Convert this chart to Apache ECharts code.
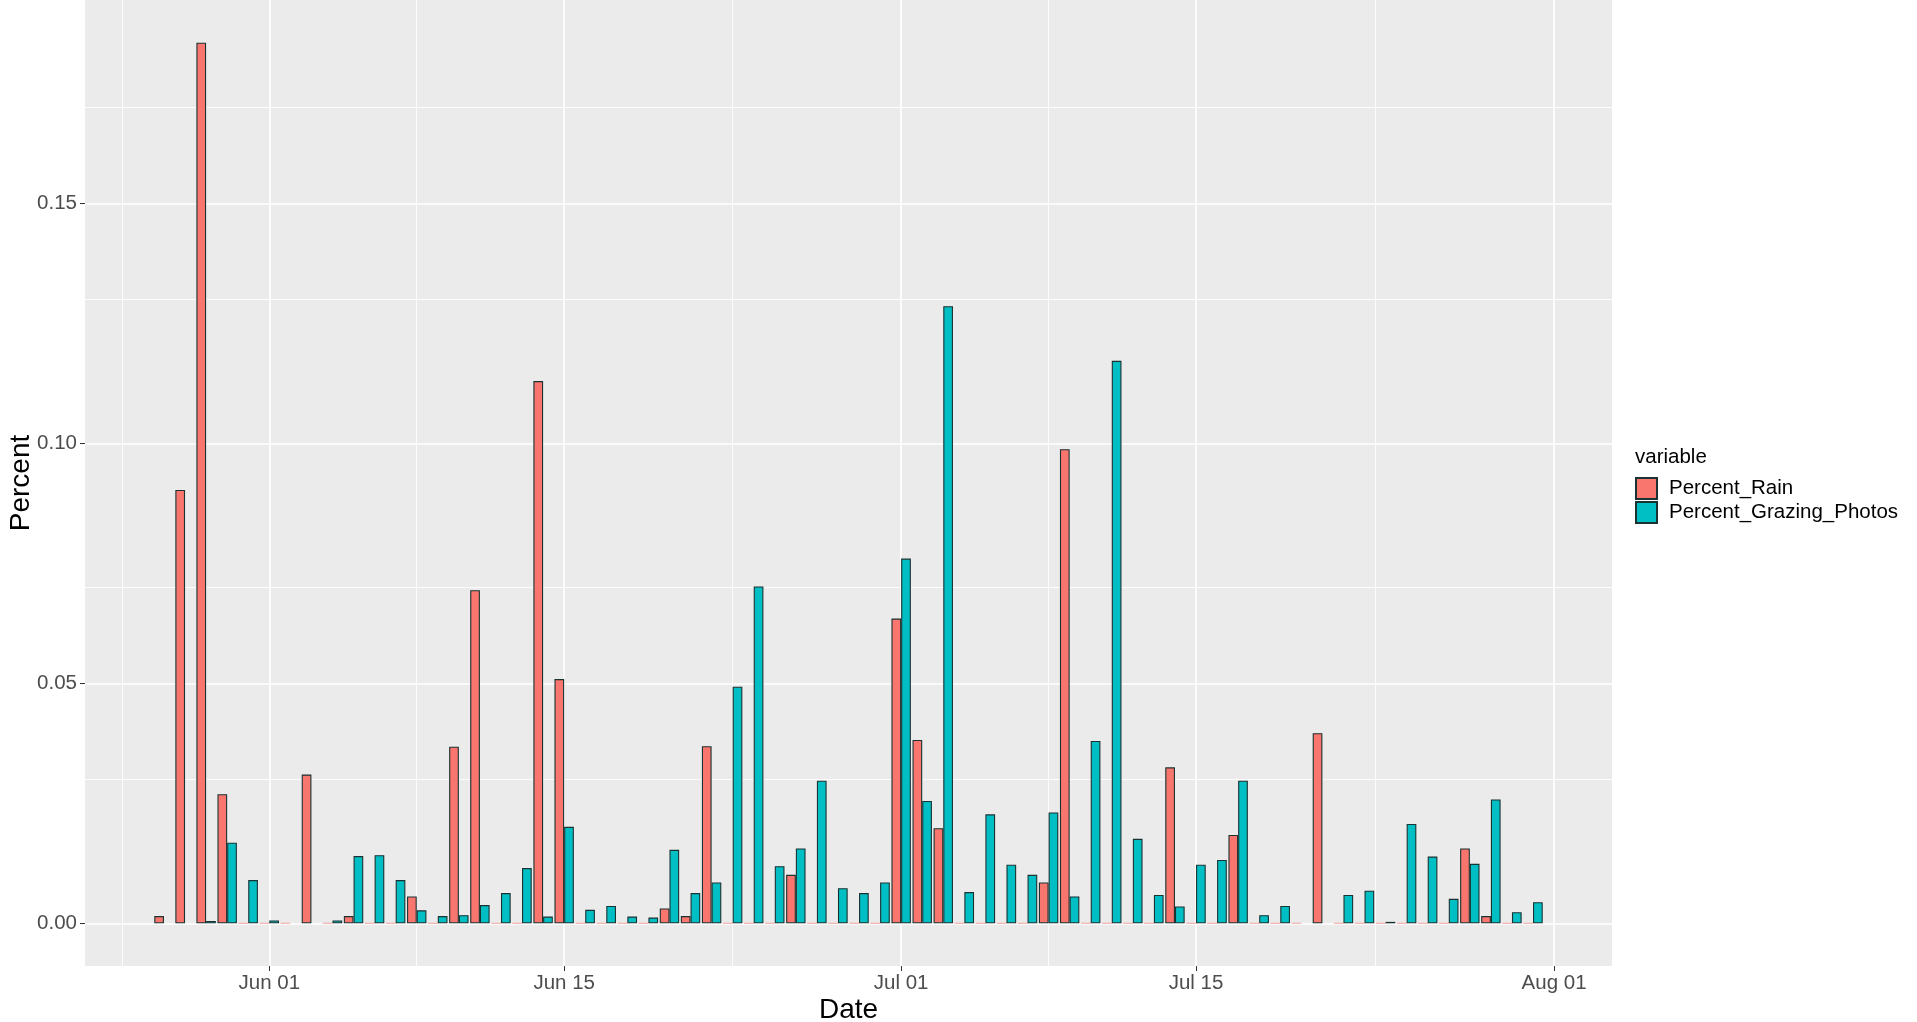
<!DOCTYPE html>
<html><head><meta charset="utf-8">
<script src="https://cdn.jsdelivr.net/npm/echarts@6/dist/echarts.min.js"></script>
<style>html,body{margin:0;padding:0;background:#fff}#c{width:1917px;height:1022px}</style>
</head><body><div id="c"></div>
<script>
const dates = [
  '2018-05-27','2018-05-28','2018-05-29','2018-05-30','2018-05-31',
  '2018-06-01','2018-06-02','2018-06-03','2018-06-04','2018-06-05','2018-06-06','2018-06-07','2018-06-08','2018-06-09','2018-06-10',
  '2018-06-11','2018-06-12','2018-06-13','2018-06-14','2018-06-15','2018-06-16','2018-06-17','2018-06-18','2018-06-19','2018-06-20',
  '2018-06-21','2018-06-22','2018-06-23','2018-06-24','2018-06-25','2018-06-26','2018-06-27','2018-06-28','2018-06-29','2018-06-30',
  '2018-07-01','2018-07-02','2018-07-03','2018-07-04','2018-07-05','2018-07-06','2018-07-07','2018-07-08','2018-07-09','2018-07-10',
  '2018-07-11','2018-07-12','2018-07-13','2018-07-14','2018-07-15','2018-07-16','2018-07-17','2018-07-18','2018-07-19','2018-07-20',
  '2018-07-21','2018-07-22','2018-07-23','2018-07-24','2018-07-25','2018-07-26','2018-07-27','2018-07-28','2018-07-29','2018-07-30','2018-07-31'
];
const percentRain = [
  0.0015, 0.0903, 0.1835, 0.0269, 0,
  0, 0, 0.031, 0, 0.0015, 0, 0, 0.0056, 0, 0.0368,
  0.0694, 0, 0, 0.113, 0.0509, 0, 0, 0, 0, 0.0031,
  0.0015, 0.0369, 0, 0, 0, 0.0101, 0, 0, 0, 0,
  0.0635, 0.0382, 0.0198, 0, 0, 0, 0, 0.0085, 0.0988, 0,
  0, 0, 0, 0.0325, 0, 0, 0.0184, 0, 0, 0,
  0.0396, 0, 0, 0, 0, 0, 0, 0.0156, 0.0015, 0, 0
];
const percentGrazingPhotos = [
  null, null, 0.0005, 0.0168, 0.009,
  0.0006, null, null, 0.0006, 0.014, 0.0142, 0.009, 0.0027, 0.0015, 0.0017,
  0.0038, 0.0063, 0.0115, 0.0014, 0.0201, 0.0028, 0.0036, 0.0014, 0.0012, 0.0153,
  0.0063, 0.0085, 0.0493, 0.0702, 0.0119, 0.0156, 0.0297, 0.0073, 0.0063, 0.0085,
  0.076, 0.0255, 0.1286, 0.0065, 0.0227, 0.0122, 0.0101, 0.0231, 0.0056, 0.038,
  0.1172, 0.0176, 0.0059, 0.0035, 0.0122, 0.0132, 0.0297, 0.0017, 0.0036, null,
  null, 0.0059, 0.0068, 0.0003, 0.0207, 0.0139, 0.0051, 0.0124, 0.0258, 0.0023, 0.0044
];
const seriesNames = ['Percent_Rain', 'Percent_Grazing_Photos'];
const legendTitle = 'variable';
const xTitle = 'Date';
const yTitle = 'Percent';
const xTickDates = ['2018-06-01', '2018-06-15', '2018-07-01', '2018-07-15', '2018-08-01'];
const xTickLabels = ['Jun 01', 'Jun 15', 'Jul 01', 'Jul 15', 'Aug 01'];
const xMinorDates = ['2018-05-25', '2018-06-08', '2018-06-23', '2018-07-08', '2018-07-23 12:00'];
const yTicks = [0, 0.05, 0.10, 0.15];
const yMinorTicks = [0.025, 0.075, 0.125, 0.175];
const xRange = ['2018-05-23 06:00', '2018-08-03 18:00'];
const yRange = [-0.0089, 0.1924];

// dates -> day number (days since 2018-06-01, UTC) for a linear value axis
function toDay(s) {
  const [d, t] = s.split(' ');
  const [y, m, dd] = d.split('-').map(Number);
  let hh = 0, mm = 0;
  if (t) { [hh, mm] = t.split(':').map(Number); }
  return (Date.UTC(y, m - 1, dd, hh, mm) - Date.UTC(2018, 5, 1)) / 86400000;
}
const tickDays = xTickDates.map(toDay);

const RED = '#F8766D', TEAL = '#00BFC4', OUTLINE = '#1a3232';

function barData(vals) {
  return dates.map((d, i) => {
    const v = vals[i];
    if (v === 0) return { value: [toDay(d), 0], itemStyle: { borderColor: '#F1A39D' } };
    return [toDay(d), v];
  });
}

const gridLines = [];
tickDays.forEach(t => gridLines.push({ xAxis: t, lineStyle: { width: 1.7 } }));
xMinorDates.forEach(s => gridLines.push({ xAxis: toDay(s), lineStyle: { width: 0.85 } }));
yTicks.forEach(v => gridLines.push({ yAxis: v, lineStyle: { width: 1.7 } }));
yMinorTicks.forEach(v => gridLines.push({ yAxis: v, lineStyle: { width: 0.85 } }));

const font = 'Liberation Sans, Arial, sans-serif';
const chart = echarts.init(document.getElementById('c'), null, { renderer: 'canvas' });
chart.setOption({
  animation: false,
  backgroundColor: '#FFFFFF',
  title: {
    text: legendTitle, left: 1635, top: 445, padding: 0,
    textStyle: { fontFamily: font, fontSize: 20.5, fontWeight: 'normal', color: '#000', lineHeight: 24 }
  },
  legend: {
    orient: 'vertical', left: 1635, top: 477, padding: 0,
    itemWidth: 21, itemHeight: 21, itemGap: 1, icon: 'rect',
    data: seriesNames,
    textStyle: { fontFamily: font, fontSize: 20.5, color: '#000', padding: [0, 0, 0, 7] }
  },
  grid: {
    left: 85, right: 305, top: 0, bottom: 56, show: true,
    backgroundColor: '#EBEBEB', borderWidth: 0, containLabel: false,
    outerBoundsMode: 'none'
  },
  xAxis: {
    type: 'value',
    min: toDay(xRange[0]), max: toDay(xRange[1]),
    name: xTitle, nameLocation: 'middle', nameGap: 30, nameMoveOverlap: false,
    nameTextStyle: { fontFamily: font, fontSize: 28, color: '#000' },
    axisLine: { show: false, onZero: false },
    axisTick: { show: true, length: 5, lineStyle: { color: '#333', width: 1 }, customValues: tickDays },
    axisLabel: {
      customValues: tickDays, margin: 7, showMinLabel: true, showMaxLabel: true,
      fontFamily: font, fontSize: 20.5, color: '#4D4D4D',
      formatter: function (v) { const i = tickDays.indexOf(v); return i >= 0 ? xTickLabels[i] : ''; }
    },
    splitLine: { show: false }
  },
  yAxis: {
    type: 'value', min: yRange[0], max: yRange[1],
    name: yTitle, nameLocation: 'middle', nameGap: 50, nameMoveOverlap: false,
    nameTextStyle: { fontFamily: font, fontSize: 28, color: '#000' },
    axisLine: { show: false, onZero: false },
    axisTick: { show: true, length: 5, lineStyle: { color: '#333', width: 1 }, customValues: yTicks },
    axisLabel: {
      customValues: yTicks, margin: 8,
      fontFamily: font, fontSize: 20.5, color: '#4D4D4D',
      formatter: function (v) { return Number(v).toFixed(2); }
    },
    splitLine: { show: false }
  },
  series: [
    {
      name: 'grid', type: 'line', data: [], silent: true, showSymbol: false,
      markLine: {
        z: 1, silent: true, symbol: 'none', animation: false,
        label: { show: false },
        lineStyle: { color: '#FFFFFF', type: 'solid', width: 1 },
        emphasis: { disabled: true },
        data: gridLines
      }
    },
    {
      name: seriesNames[0], type: 'bar', z: 3, barWidth: 9.7, barGap: '0%',
      itemStyle: { color: RED, borderColor: OUTLINE, borderWidth: 1.1 },
      data: barData(percentRain)
    },
    {
      name: seriesNames[1], type: 'bar', z: 3, barWidth: 9.7, barGap: '0%',
      itemStyle: { color: TEAL, borderColor: OUTLINE, borderWidth: 1.1 },
      data: barData(percentGrazingPhotos)
    }
  ]
});
</script>
</body></html>
